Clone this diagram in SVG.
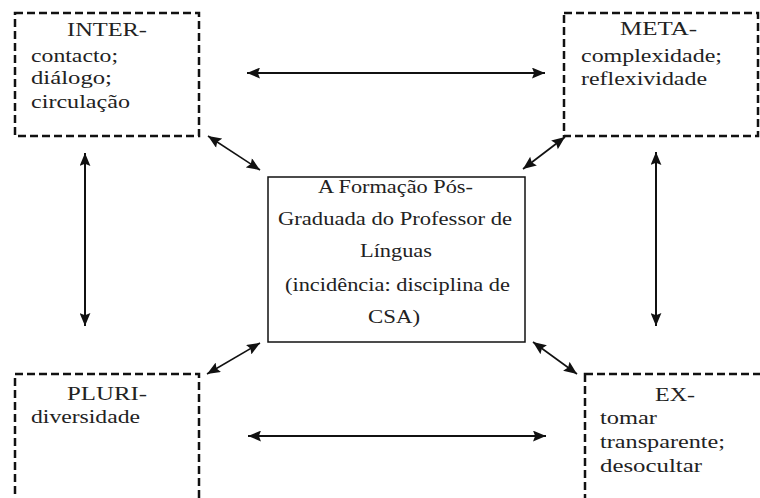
<svg xmlns="http://www.w3.org/2000/svg" width="760" height="498" viewBox="0 0 760 498">
<style>
.box{fill:#fff;stroke:#111;stroke-width:2.5;stroke-dasharray:8 4}
.center{fill:#fff;stroke:#111;stroke-width:1.5}
.t{font-family:"Liberation Serif","DejaVu Serif",serif;font-size:18px;fill:#222}
.a{stroke:#111;stroke-width:2;fill:none;marker-start:url(#ah);marker-end:url(#ah)}
.d{stroke:#111;stroke-width:1.6;fill:none;marker-start:url(#ah2);marker-end:url(#ah2)}
</style>
<defs>
<marker id="ah" viewBox="0 0 12 10" refX="12" refY="5" markerWidth="13" markerHeight="11" markerUnits="userSpaceOnUse" orient="auto-start-reverse"><path d="M0,0 L12,5 L0,10 L2,5 Z" fill="#111"/></marker>
<marker id="ah2" viewBox="0 0 12 10" refX="12" refY="5" markerWidth="14" markerHeight="11" markerUnits="userSpaceOnUse" orient="auto-start-reverse"><path d="M0,0 L12,5 L0,10 L2,5 Z" fill="#111"/></marker>
</defs>
<rect width="760" height="498" fill="#fff"/>
<g id="connectors">
<line class="a" x1="247" y1="73" x2="545" y2="73"/>
<line class="a" x1="248" y1="436" x2="546" y2="436"/>
<line class="a" x1="85" y1="153" x2="85" y2="326"/>
<line class="a" x1="656" y1="152" x2="656" y2="326"/>
<line class="d" x1="208" y1="136" x2="260" y2="170"/>
<line class="d" x1="565" y1="137" x2="523" y2="169"/>
<line class="d" x1="260" y1="343" x2="207" y2="374"/>
<line class="d" x1="533" y1="342" x2="577" y2="374"/>
</g>
<g id="inter">
<rect class="box" x="15" y="13" width="184" height="123"/>
<text class="t" x="67" y="36" textLength="80" lengthAdjust="spacingAndGlyphs">INTER-</text>
<text class="t" x="31" y="62" textLength="87" lengthAdjust="spacingAndGlyphs">contacto;</text>
<text class="t" x="31" y="84" textLength="81" lengthAdjust="spacingAndGlyphs">diálogo;</text>
<text class="t" x="31" y="108" textLength="99" lengthAdjust="spacingAndGlyphs">circulação</text>
</g>
<g id="meta">
<rect class="box" x="564" y="13" width="194" height="123"/>
<text class="t" x="620" y="35" textLength="77" lengthAdjust="spacingAndGlyphs">META-</text>
<text class="t" x="581" y="62" textLength="141" lengthAdjust="spacingAndGlyphs">complexidade;</text>
<text class="t" x="581" y="85" textLength="126" lengthAdjust="spacingAndGlyphs">reflexividade</text>
</g>
<g id="pluri">
<rect class="box" x="15" y="374" width="184" height="140"/>
<text class="t" x="67" y="400" textLength="80" lengthAdjust="spacingAndGlyphs">PLURI-</text>
<text class="t" x="31" y="423" textLength="109" lengthAdjust="spacingAndGlyphs">diversidade</text>
</g>
<g id="ex">
<rect class="box" x="585" y="374" width="200" height="140"/>
<text class="t" x="655" y="401" textLength="40" lengthAdjust="spacingAndGlyphs">EX-</text>
<text class="t" x="600" y="424" textLength="57" lengthAdjust="spacingAndGlyphs">tomar</text>
<text class="t" x="600" y="448" textLength="125" lengthAdjust="spacingAndGlyphs">transparente;</text>
<text class="t" x="600" y="472" textLength="102" lengthAdjust="spacingAndGlyphs">desocultar</text>
</g>
<g id="center">
<rect class="center" x="268" y="177" width="257" height="165"/>
<text class="t" x="318" y="193" textLength="155" lengthAdjust="spacingAndGlyphs">A Formação Pós-</text>
<text class="t" x="278" y="225" textLength="234" lengthAdjust="spacingAndGlyphs">Graduada do Professor de</text>
<text class="t" x="360" y="257" textLength="72" lengthAdjust="spacingAndGlyphs">Línguas</text>
<text class="t" x="285" y="291" textLength="225" lengthAdjust="spacingAndGlyphs">(incidência: disciplina de</text>
<text class="t" x="368" y="323" textLength="52" lengthAdjust="spacingAndGlyphs">CSA)</text>
</g>
</svg>
